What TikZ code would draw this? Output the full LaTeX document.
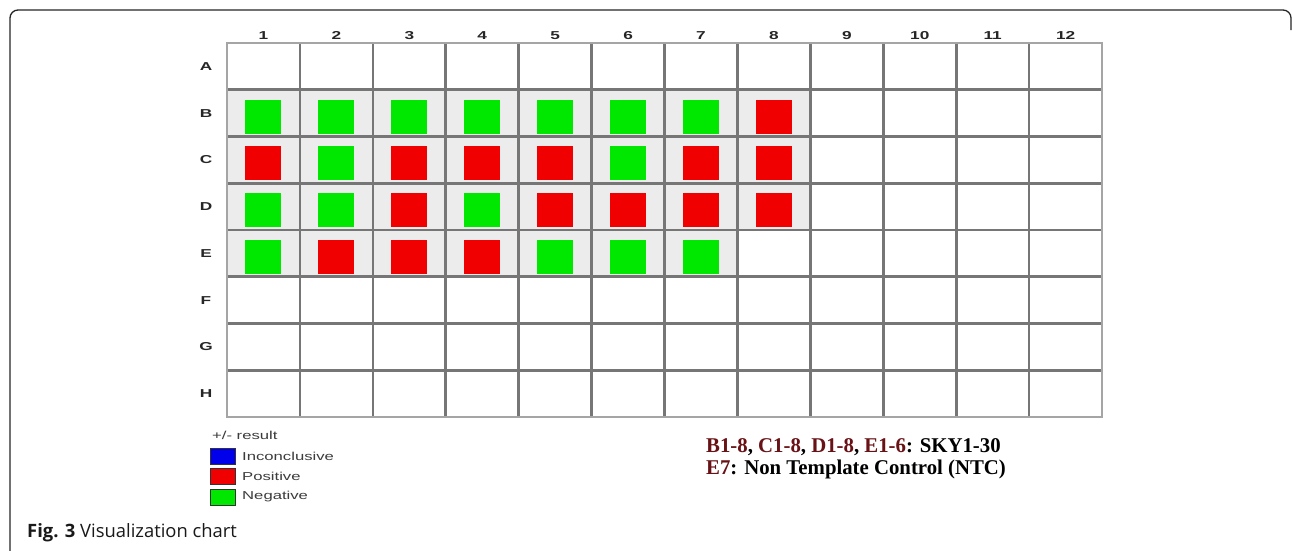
\documentclass[tikz,border=0pt]{standalone}
\usepackage{fontspec}
\setmainfont{Liberation Serif}
\setsansfont{Liberation Sans}
\newfontfamily\capfont{Open Sans}
\definecolor{R}{RGB}{240,0,0}
\definecolor{G}{RGB}{0,232,0}
\definecolor{incblue}{RGB}{0,0,235}
\definecolor{wellgray}{RGB}{236,236,236}
\definecolor{gridline}{RGB}{118,118,118}
\definecolor{gridouter}{RGB}{165,165,165}
\definecolor{labmaroon}{RGB}{105,18,22}
\definecolor{legtext}{RGB}{60,60,60}
\tikzset{
  collab/.style={font=\sffamily\bfseries\fontsize{11.5}{13}\selectfont, inner sep=0pt, text=black!85},
  legbox/.style={draw=black!80, line width=0.9pt},
  legtxt/.style={font=\sffamily\fontsize{11.5}{13}\selectfont, inner sep=0pt, anchor=west, text=legtext},
  innerline/.style={draw=gridline, line width=2.6pt},
  outerline/.style={draw=gridouter, line width=1.5pt},
  keytext/.style={font=\rmfamily\bfseries\fontsize{21}{23}\selectfont, inner sep=0pt, anchor=base west},
}
\begin{document}
\begin{tikzpicture}[x=1pt,y=-1pt]
\useasboundingbox (0,0) rectangle (1292,550);
\fill[white] (0,0) rectangle (1292,550);
\def\xa{227}\def\dx{72.92}\def\ya{43}\def\dy{46.75}
% frame
\draw[black!85, line width=1.3pt, rounded corners=8pt] (10,551) -- (10,10) -- (1291,10) -- (1291,30);
% filled wells
\foreach \j/\lst in {1/{G,G,G,G,G,G,G,R},2/{R,G,R,R,R,G,R,R},3/{G,G,R,G,R,R,R,R},4/{G,R,R,R,G,G,G}} {
  \foreach \c [count=\i from 0] in \lst {
    \fill[wellgray] (\xa+\i*\dx, \ya+\j*\dy) rectangle ++(\dx,\dy);
    \fill[\c] (\xa+\i*\dx+\dx/2-18, \ya+\j*\dy+\dy/2-13.5) rectangle ++(36,34);
  }
}
% grid
\foreach \i in {1,...,11} \draw[innerline] (\xa+\i*\dx, \ya) -- (\xa+\i*\dx, \ya+8*\dy);
\foreach \j in {1,...,7} \draw[innerline] (\xa, \ya+\j*\dy) -- (\xa+12*\dx, \ya+\j*\dy);
\draw[outerline] (\xa,\ya) rectangle (\xa+12*\dx, \ya+8*\dy);
% labels
\foreach \i in {1,...,12} \node[collab] (col\i) at (\xa+\i*\dx-\dx/2, 35.5) {\scalebox{1.5}[1]{\i}};
\foreach \l [count=\j from 0] in {A,B,C,D,E,F,G,H} \node[collab] (row\l) at (206, \ya+\j*\dy+\dy/2) {\scalebox{1.5}[1]{\l}};
% legend
\node[legtxt] (restitle) at (212,435) {\scalebox{1.45}[1]{+/- result}};
\draw[legbox, fill=incblue] (210,448) rectangle (235,464);
\draw[legbox, fill=R] (210,468) rectangle (235,484);
\draw[legbox, fill=G] (210,489) rectangle (235,505);
\node[legtxt] (linc) at (242,456) {\scalebox{1.45}[1]{Inconclusive}};
\node[legtxt] (lpos) at (242,476) {\scalebox{1.45}[1]{Positive}};
\node[legtxt] (lneg) at (242,497) {\scalebox{1.45}[1]{Negative}};
% key text
\node[keytext] (key1) at (706,452) {\scalebox{0.99}[1]{\textcolor{labmaroon}{B1-8}, \textcolor{labmaroon}{C1-8}, \textcolor{labmaroon}{D1-8}, \textcolor{labmaroon}{E1-6}: SKY1-30}};
\node[keytext] (key2) at (706,474) {\scalebox{0.99}[1]{\textcolor{labmaroon}{E7}: Non Template Control (NTC)}};
% caption
\node[anchor=base west, inner sep=0pt, font=\capfont\fontsize{18.4}{20}\selectfont, text=black!90] (caption) at (27,537) {\textbf{Fig. 3} Visualization chart};
\end{tikzpicture}
\end{document}
